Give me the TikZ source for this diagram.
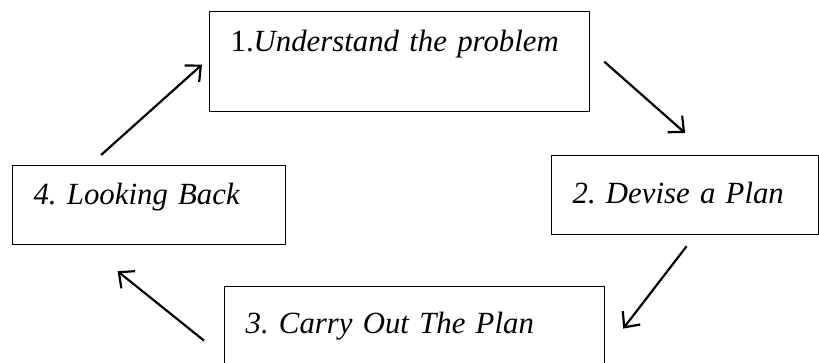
\documentclass[tikz,border=0pt]{standalone}
\usepackage{fontspec}
\setmainfont{Liberation Serif}
\usetikzlibrary{positioning}
\usetikzlibrary{calc}
\usetikzlibrary{arrows.meta}
\frenchspacing

\begin{document}
\begin{tikzpicture}[
    x=0.5pt,y=-0.5pt,
    font=\fontsize{15.4pt}{18pt}\selectfont\itshape,
    stepbox/.style={rectangle,draw,line width=0.6pt,anchor=north west,align=left,inner xsep=10.5pt,inner ysep=0pt},
    arrow/.style={-{Straight Barb[length=6pt,width=11pt]},line width=1.1pt}
]
\clip (0,0) rectangle (819,363);

\node[stepbox,text width=169pt,text height=20pt,text depth=30pt] (understand) at (209,11) {\upshape 1.\itshape Understand the problem};
\node[stepbox,text width=112.5pt,text height=24pt,text depth=15.5pt] (devise) at (551,155) {2. Devise a Plan};
\node[stepbox,text width=169pt,text height=23.5pt,text depth=19.5pt] (carry) at (224,286) {3. Carry Out The Plan};
\node[stepbox,text width=115.5pt,text height=19.5pt,text depth=20pt] (look) at (12,165) {4. Looking Back};

\draw[arrow] ($(look.north)+(-48,-10)$) -- ($(understand.west)+(-7,3)$);
\draw[arrow] ($(understand.east)+(14,0)$) -- ($(devise.north)+(0,-22)$);
\draw[arrow] ($(devise.south)+(1.5,11)$) -- ($(carry.east)+(18,-1)$);
\draw[arrow] ($(carry.west)+(-20,11)$) -- ($(look.south)+(-31.5,26)$);

\end{tikzpicture}
\end{document}
